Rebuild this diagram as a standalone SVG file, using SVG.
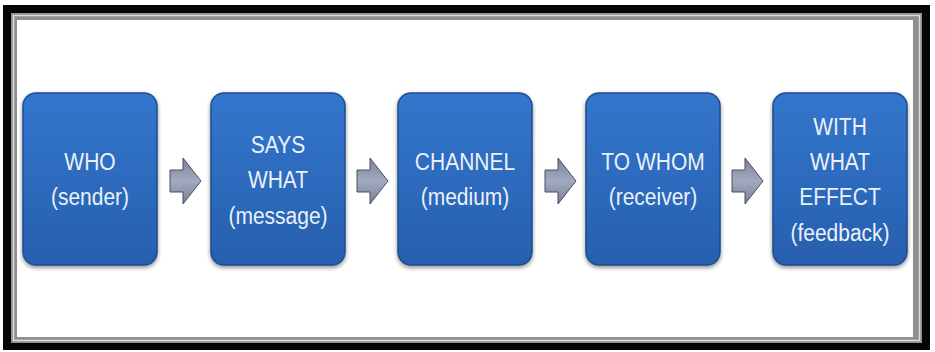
<svg xmlns="http://www.w3.org/2000/svg" width="935" height="352" viewBox="0 0 935 352">
  <defs>
    <linearGradient id="boxFill" x1="0" y1="0" x2="0" y2="1">
      <stop offset="0" stop-color="#3276cc"/>
      <stop offset="1" stop-color="#285fae"/>
    </linearGradient>
    <linearGradient id="arrowFill" x1="0" y1="0" x2="0" y2="1">
      <stop offset="0" stop-color="#7a8399"/>
      <stop offset="0.5" stop-color="#a2aac0"/>
      <stop offset="1" stop-color="#777f94"/>
    </linearGradient>
    <filter id="shadow" x="-10%" y="-10%" width="120%" height="125%">
      <feGaussianBlur in="SourceAlpha" stdDeviation="2"/>
      <feOffset dx="0" dy="2" result="b"/>
      <feComponentTransfer><feFuncA type="linear" slope="0.45"/></feComponentTransfer>
      <feMerge><feMergeNode/><feMergeNode in="SourceGraphic"/></feMerge>
    </filter>
    <path id="arrow" d="M-15,-11 H-2 V-23 L16,0 L-2,23 V11 H-15 Z"/>
  </defs>
  <style>
    .box { fill: url(#boxFill); stroke: #1d4d8e; stroke-width: 1.5; filter: url(#shadow); }
    .lbl { fill: #eaf1fb; font-family: "Liberation Sans", Arial, sans-serif; font-size: 21px; text-anchor: middle; dominant-baseline: central; }
    .arr { fill: url(#arrowFill); stroke: #4a4f60; stroke-width: 1; }
  </style>

  <!-- picture frame -->
  <rect x="0" y="0" width="935" height="352" fill="#ffffff"/>
  <rect x="3" y="5" width="927" height="345" fill="#050505"/>
  <rect x="11" y="13" width="911" height="330" fill="#8f8f8f"/>
  <rect x="13.5" y="15.5" width="906" height="325" fill="none" stroke="#dcdcdc" stroke-width="1.5"/>
  <rect x="17" y="20" width="896" height="317" fill="#ffffff"/>

  <!-- stages (labels are slightly stretched vertically) -->
  <g id="who">
    <rect class="box" x="23" y="93" width="134" height="172" rx="13"/>
    <text class="lbl" transform="translate(90 162) scale(1 1.15)">WHO</text>
    <text class="lbl" transform="translate(90 197) scale(1 1.15)">(sender)</text>
  </g>
  <g id="says-what">
    <rect class="box" x="211" y="93" width="134" height="172" rx="13"/>
    <text class="lbl" transform="translate(278 145) scale(1 1.15)">SAYS</text>
    <text class="lbl" transform="translate(278 180) scale(1 1.15)">WHAT</text>
    <text class="lbl" transform="translate(278 216) scale(1 1.15)">(message)</text>
  </g>
  <g id="channel">
    <rect class="box" x="398" y="93" width="134" height="172" rx="13"/>
    <text class="lbl" transform="translate(465 162) scale(1 1.15)">CHANNEL</text>
    <text class="lbl" transform="translate(465 197) scale(1 1.15)">(medium)</text>
  </g>
  <g id="to-whom">
    <rect class="box" x="586" y="93" width="134" height="172" rx="13"/>
    <text class="lbl" transform="translate(653 162) scale(1 1.15)">TO WHOM</text>
    <text class="lbl" transform="translate(653 197) scale(1 1.15)">(receiver)</text>
  </g>
  <g id="with-what-effect">
    <rect class="box" x="773" y="93" width="134" height="172" rx="13"/>
    <text class="lbl" transform="translate(840 127) scale(1 1.15)">WITH</text>
    <text class="lbl" transform="translate(840 162) scale(1 1.15)">WHAT</text>
    <text class="lbl" transform="translate(840 197) scale(1 1.15)">EFFECT</text>
    <text class="lbl" transform="translate(840 233) scale(1 1.15)">(feedback)</text>
  </g>

  <!-- connectors -->
  <g id="connectors">
    <use href="#arrow" class="arr" transform="translate(185,181)"/>
    <use href="#arrow" class="arr" transform="translate(372,181)"/>
    <use href="#arrow" class="arr" transform="translate(560,181)"/>
    <use href="#arrow" class="arr" transform="translate(747,181)"/>
  </g>
</svg>
